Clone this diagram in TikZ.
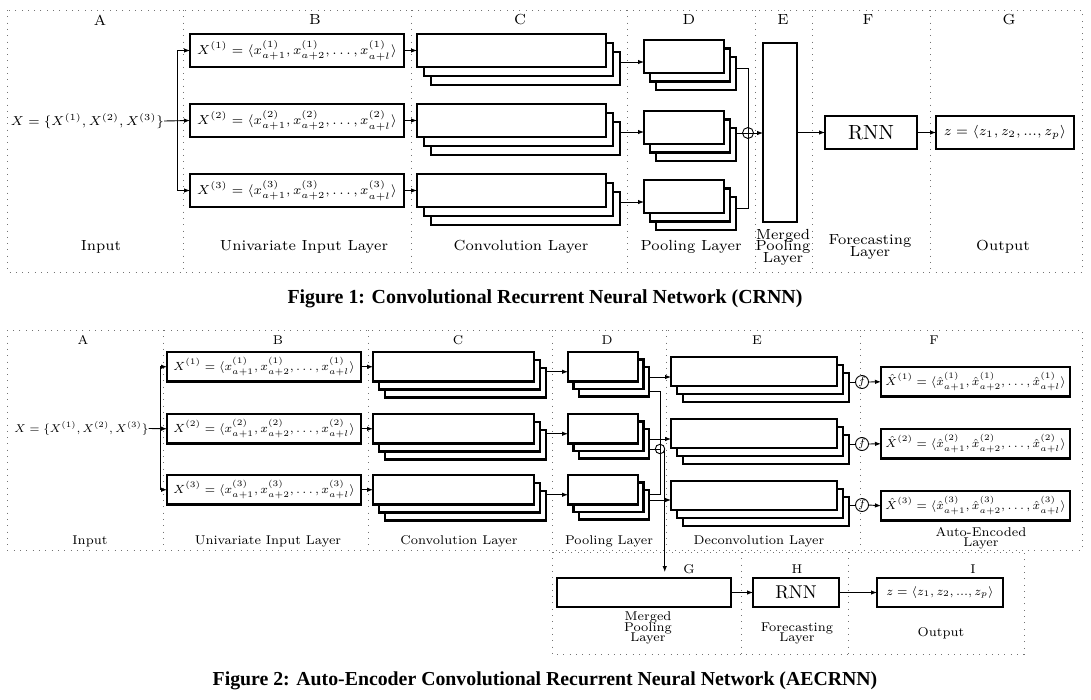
\RequirePackage{fix-cm}
\documentclass[tikz,border=0pt]{standalone}
\usepackage{fontspec}
\newfontfamily\capfont{Liberation Serif}
\usetikzlibrary{arrows.meta,calc}
\newcommand{\mystk}[7]{%
  \node[bx, minimum width=#4pt, minimum height=#5pt] (#1-3) at ({#2+2*#6},{#3+2*#7}) {};
  \node[bx, minimum width=#4pt, minimum height=#5pt] (#1-2) at ({#2+#6},{#3+#7}) {};
  \node[bx, minimum width=#4pt, minimum height=#5pt] (#1) at (#2,#3) {};}
\newcommand{\sm}[2]{\scalebox{#1}{\fontsize{7}{8}\selectfont #2}}
\newcommand{\tightls}{\lineskiplimit=-20pt\relax}
\begin{document}
\begin{tikzpicture}[x=1pt,y=-1pt,
  frm/.style={draw=black!55, line width=0.9pt, dash pattern=on 0.9pt off 5.4pt},
  bx/.style={draw, line width=2.1pt, fill=white, inner sep=0pt, outer sep=0pt, anchor=north west},
  arr/.style={-{Latex[length=6pt,width=4.5pt]}, line width=0.9pt},
  ln/.style={line width=0.9pt},
  labA/.style={font=\fontsize{7}{5.5}\selectfont\tightls, scale=2.09, align=center, inner sep=0pt},
  labB/.style={font=\fontsize{7}{5.6}\selectfont\tightls, scale=1.82, align=center, inner sep=0pt},
  txt/.style={inner sep=0pt},
  merge/.style={circle, draw, line width=0.9pt, inner sep=0pt, outer sep=0pt},
]
\useasboundingbox (0,0) rectangle (1091,699);

%%%%%%%%%%%%%%%% Figure 1 %%%%%%%%%%%%%%%%
\draw[frm] (7,10) rectangle (1082,272);
\foreach \x in {183,411,627,755,812,930} \draw[frm] (\x,10) -- (\x,272);

\node[labA] (la1) at (100,20) {A};
\node[labA] (lb1) at (315,20) {B};
\node[labA] (lc1) at (520,20) {C};
\node[labA] (ld1) at (689,20) {D};
\node[labA] (le1) at (783,20) {E};
\node[labA] (lf1) at (868,20) {F};
\node[labA] (lg1) at (1009,20) {G};

\node[labA] (ba1) at (101,247) {Input};
\node[labA] (bb1) at (304,247) {Univariate Input Layer};
\node[labA] (bc1) at (521,247) {Convolution Layer};
\node[labA] (bd1) at (691,247) {Pooling Layer};
\node[labA] (be1) at (783,247) {Merged\\Pooling\\Layer};
\node[labA] (bf1) at (870,247) {Forecasting\\Layer};
\node[labA] (bg1) at (1003,247) {Output};

\node[txt] (in1) at (87.5,121) {\sm{1.85}{$X=\{X^{(1)},X^{(2)},X^{(3)}\}$}};
\coordinate (br1) at (177,121);

\foreach \i/\y in {1/34,2/104,3/174}{
  \node[bx, minimum width=214pt, minimum height=33pt] (b\i) at (190,\y)
    {\sm{1.86}{$X^{(\i)} = \langle x^{(\i)}_{a+1}, x^{(\i)}_{a+2}, \ldots, x^{(\i)}_{a+l}\rangle$}};
}
\draw[arr] (in1.east) -- (b2.west);
\draw[arr] (br1) |- (b1.west);
\draw[arr] (br1) |- (b3.west);

\mystk{c1}{417}{34}{189}{33}{7}{9}
\mystk{c2}{417}{104}{189}{33}{7}{9}
\mystk{c3}{417}{174}{189}{33}{7}{9}
\mystk{d1}{644}{40}{80}{33}{6}{8.5}
\mystk{d2}{644}{111}{80}{33}{6}{8.5}
\mystk{d3}{644}{180}{80}{33}{6}{8.5}

\foreach \i in {1,2,3}{
  \draw[arr] (b\i.east) -- (c\i.west);
  \draw[arr] ([yshift=6.5pt]c\i-3.east) -- ([yshift=6.5pt]c\i-3.east -| d\i.west);
}

\node[merge, minimum size=11pt] (m1) at (748,133) {};
\node[bx, minimum width=34pt, minimum height=179pt] (e1) at (763,43) {};
\draw[ln] ([yshift=5.5pt]d1-3.east) -| (m1.center);
\draw[ln] ([yshift=5.5pt]d3-3.east) -| (m1.center);
\draw[ln] (m1.center -| d2-3.east) -- (m1.center);
\draw[arr] (m1.center) -- (m1.center -| e1.west);

\node[bx, minimum width=92pt, minimum height=33pt] (rnn1) at (825,116) {\scalebox{2.05}{\fontsize{10}{12}\selectfont RNN}};
\node[bx, minimum width=138pt, minimum height=33pt] (out1) at (936,116)
  {\sm{1.94}{$z=\langle z_1, z_2, ..., z_p\rangle$}};
\draw[arr] (e1.east) -- (rnn1.west);
\draw[arr] (rnn1.east) -- (out1.west);

\node[txt, font=\capfont\fontsize{19.9}{20}\bfseries\selectfont] (cap1) at (545,299)
  {Figure 1: Convolutional Recurrent Neural Network (CRNN)};

%%%%%%%%%%%%%%%% Figure 2 %%%%%%%%%%%%%%%%
\draw[frm] (7,330) rectangle (1082,550);
\foreach \x in {163,368,552,666,860} \draw[frm] (\x,330) -- (\x,550);

\node[labB] (la2) at (83,340) {A};
\node[labB] (lb2) at (278,340) {B};
\node[labB] (lc2) at (458,340) {C};
\node[labB] (ld2) at (607,340) {D};
\node[labB] (le2) at (757,340) {E};
\node[labB] (lf2) at (934,340) {F};

\node[labB] (ba2) at (90,541) {Input};
\node[labB] (bb2) at (268,541) {Univariate Input Layer};
\node[labB] (bc2) at (459,541) {Convolution Layer};
\node[labB] (bd2) at (609,541) {Pooling Layer};
\node[labB] (be2) at (759,541) {Deconvolution Layer};
\node[labB] (bf2) at (981,538) {Auto-Encoded\\Layer};

\node[txt] (in2) at (81.5,428.5) {\sm{1.62}{$X=\{X^{(1)},X^{(2)},X^{(3)}\}$}};
\coordinate (br2) at (160,428.5);

\foreach \i/\y in {1/352,2/414,3/475}{
  \node[bx, minimum width=194pt, minimum height=29.5pt] (bb\i) at (167,\y)
    {\sm{1.69}{$X^{(\i)} = \langle x^{(\i)}_{a+1}, x^{(\i)}_{a+2}, \ldots, x^{(\i)}_{a+l}\rangle$}};
}
\draw[arr] (in2.east) -- (bb2.west);
\draw[arr] (br2) |- (bb1.west);
\draw[arr] (br2) |- (bb3.west);

\mystk{c4}{373}{352}{161}{29.5}{6}{8}
\mystk{c5}{373}{414}{161}{29.5}{6}{8}
\mystk{c6}{373}{475}{161}{29.5}{6}{8}
\mystk{d4}{568}{352}{70}{29.5}{5.5}{7.5}
\mystk{d5}{568}{414}{70}{29.5}{5.5}{7.5}
\mystk{d6}{568}{475}{70}{29.5}{5.5}{7.5}
\mystk{e4}{671}{357}{166}{29}{6}{8}
\mystk{e5}{671}{419}{166}{29}{6}{8}
\mystk{e6}{671}{481}{166}{29}{6}{8}

\foreach \i/\j in {1/4,2/5,3/6}{
  \draw[arr] (bb\i.east) -- (c\j.west);
  \draw[arr] ([yshift=11pt]c\j-3.east) -- ([yshift=11pt]c\j-3.east -| d\j.west);
  \draw[arr] ([yshift=4.75pt]d\j-3.east) -- ([yshift=4.75pt]d\j-3.east -| e\j.west);
}

\node[merge, minimum size=9.5pt] (m2) at (660,449) {};
\draw[ln] ([yshift=-10pt]d4-3.east) -| (m2.center);
\draw[ln] ([yshift=10pt]d6-3.east) -| (m2.center);
\draw[ln] (m2.center -| d5-3.east) -- (m2.center);

\foreach \j/\y in {4/382,5/444,6/505}{
  \node[merge, minimum size=13pt] (f\j) at (862,\y) {\sm{1.6}{$f$}};
  \draw[ln] (f\j.west -| e\j-3.east) -- (f\j.west);
}
\foreach \i/\j/\y in {1/4/367,2/5/429,3/6/491}{
  \node[bx, minimum width=189pt, minimum height=29.5pt] (x\i) at (881,\y)
    {\sm{1.68}{$\hat{X}^{(\i)} = \langle \hat{x}^{(\i)}_{a+1}, \hat{x}^{(\i)}_{a+2}, \ldots, \hat{x}^{(\i)}_{a+l}\rangle$}};
  \draw[arr] (f\j.east) -- (x\i.west);
}

% lower part
\draw[frm] (552,552) rectangle (1024,654);
\foreach \x in {741,848} \draw[frm] (\x,552) -- (\x,654);
\node[labB] (lg2) at (689,569) {G};
\node[labB] (lh2) at (797,569) {H};
\node[labB] (li2) at (973,569) {I};

\node[bx, minimum width=174pt, minimum height=29pt] (g1) at (557,578) {};
\node[bx, minimum width=86pt, minimum height=29pt] (h1) at (753,578) {\scalebox{1.85}{\fontsize{10}{12}\selectfont RNN}};
\node[bx, minimum width=126pt, minimum height=29pt] (i1) at (877,578)
  {\sm{1.7}{$z=\langle z_1, z_2, ..., z_p\rangle$}};
\draw[arr] (m2.east) -- ([yshift=6pt]m2.east |- g1.north);
\draw[arr] (g1.east) -- (h1.west);
\draw[arr] (h1.east) -- (i1.west);

\node[labB] (bg2) at (648,628) {Merged\\Pooling\\Layer};
\node[labB] (bh2) at (797,633.5) {Forecasting\\Layer};
\node[labB] (bi2) at (941,633) {Output};

\node[txt, font=\capfont\fontsize{19.8}{20}\bfseries\selectfont] (cap2) at (545,681)
  {Figure 2: Auto-Encoder Convolutional Recurrent Neural Network (AECRNN)};
\end{tikzpicture}
\end{document}
